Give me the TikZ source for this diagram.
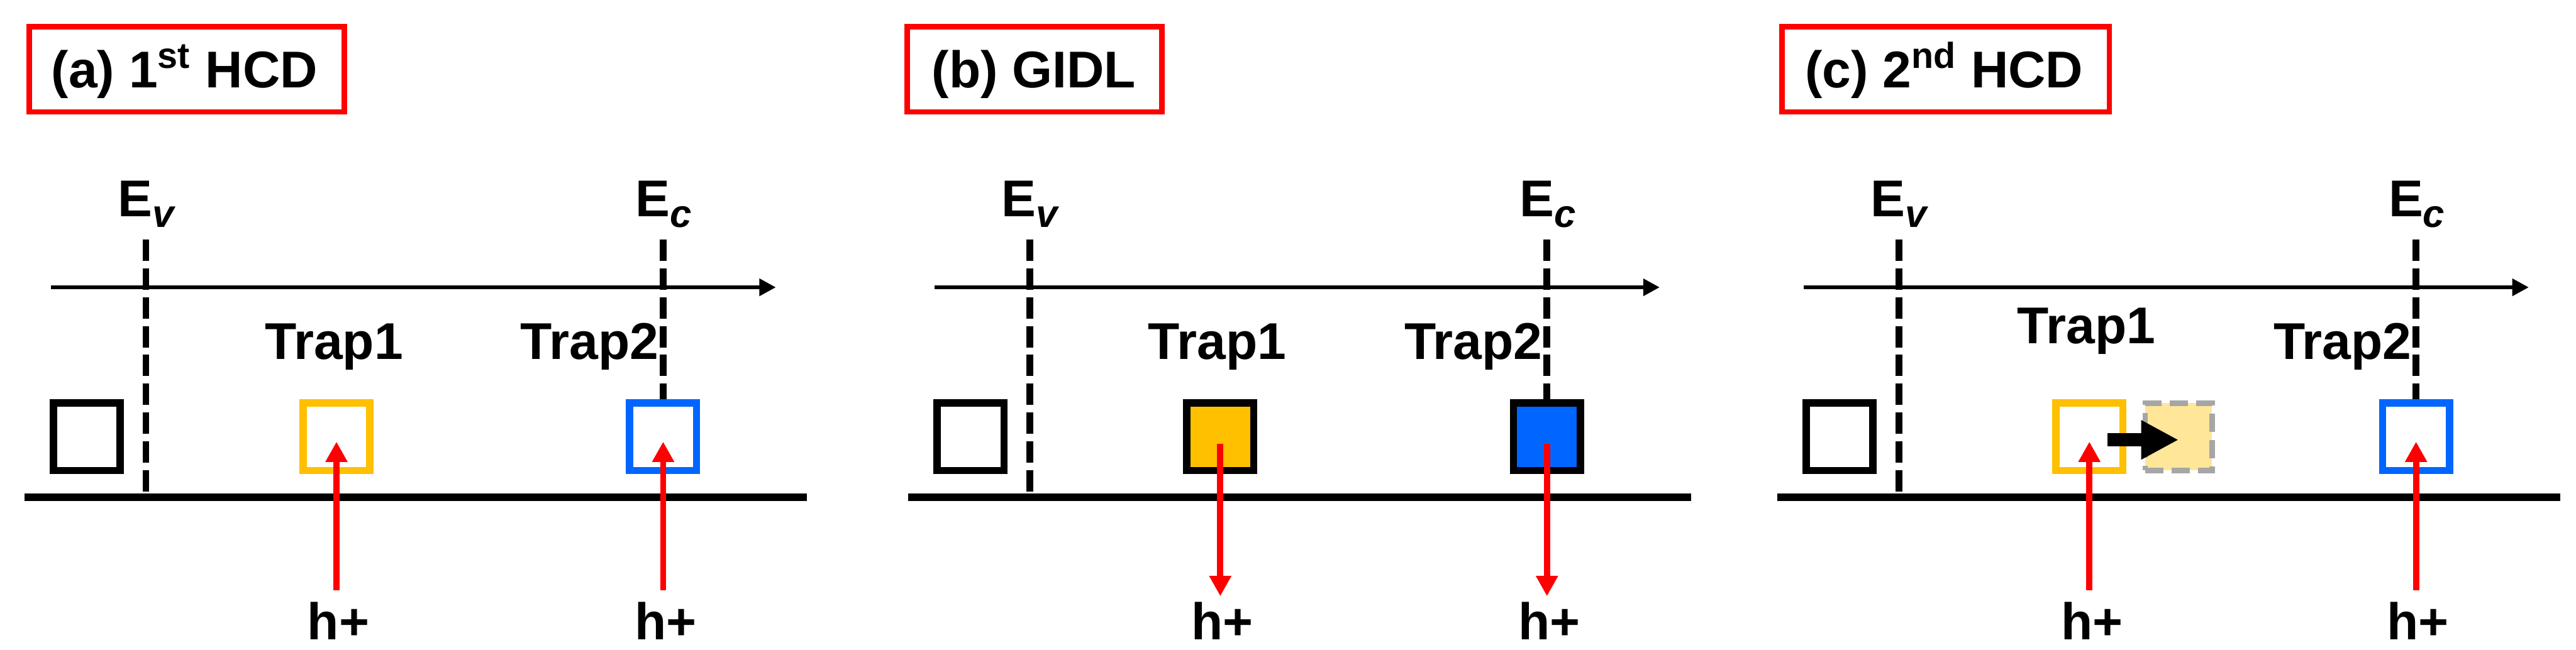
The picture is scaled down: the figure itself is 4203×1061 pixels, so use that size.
\documentclass[tikz,border=0pt]{standalone}
\usepackage{fontspec}
\setmainfont{Liberation Sans}
\usetikzlibrary{arrows.meta,calc}
\definecolor{tyel}{HTML}{FFC000}
\definecolor{tblue}{HTML}{0066FF}
\definecolor{tred}{HTML}{FF0000}
\definecolor{ghostfill}{HTML}{FFE699}
\definecolor{ghostline}{HTML}{A6A6A6}
\newcommand{\sublbl}[1]{\raisebox{-0.17cm}{\fontsize{18}{20}\selectfont\itshape #1}}
\begin{document}
\begin{tikzpicture}[x=0.01cm, y=-0.01cm,
  lbl/.style={font=\fontsize{24}{28}\selectfont\bfseries, inner sep=0pt, anchor=base},
  titlebox/.style={draw=tred, line width=0.09cm, minimum height=1.39cm, inner sep=0pt},
  trapbox/.style={line width=0.12cm, minimum width=1.09cm, minimum height=1.1cm, inner sep=0pt},
  ghostbox/.style={trapbox, line width=0.09cm, draw=ghostline, fill=ghostfill, dash pattern=on 0.3cm off 0.13cm},
  axisline/.style={line width=0.07cm, -{Triangle[length=0.27cm,width=0.27cm]}},
  bandline/.style={line width=0.12cm},
  dline/.style={line width=0.11cm, dash pattern=on 0.35cm off 0.12cm},
  redup/.style={draw=tred, line width=0.1cm, -{Triangle[length=0.33cm,width=0.34cm]}, shorten <=0.19cm, shorten >=0.08cm},
  reddown/.style={draw=tred, line width=0.1cm, -{Triangle[length=0.33cm,width=0.34cm]}, shorten <=0.11cm, shorten >=0.09cm},
  fatarrow/.style={line width=0.21cm, -{Triangle[length=0.61cm,width=0.6cm]}, shorten <=0.29cm}
]
\useasboundingbox (0,0) rectangle (4203,1061);

% ---------- titles ----------
\node[titlebox, minimum width=5.14cm] (ta) at (304.5,113) {};
\node[lbl] (tta) at (301,143) {(a) 1\textsuperscript{st} HCD};
\node[titlebox, minimum width=4.15cm] (tb) at (1688,113) {};
\node[lbl] (ttb) at (1687,143) {(b) GIDL};
\node[titlebox, minimum width=5.34cm] (tc) at (3174.5,113) {};
\node[lbl] (ttc) at (3172,143) {(c) 2\textsuperscript{nd} HCD};

% ---------- panel (a) ----------
\begin{scope}
\coordinate (a-axs) at (83,469); \coordinate (a-axe) at (1266,469);
\draw[axisline] (a-axs) -- (a-axe);
\coordinate (a-bl) at (40,812); \coordinate (a-br) at (1317,812);
\draw[bandline] (a-bl) -- (a-br);
\node[trapbox, draw=black] (a-b0) at (141.5,713) {};
\node[trapbox, draw=tyel] (a-b1) at (549,713) {};
\node[trapbox, draw=tblue] (a-b2) at (1082,713) {};
\node[lbl] (a-t1) at (545,586) {Trap1};
\node[lbl] (a-t2) at (962,586) {Trap2};
\node[lbl] (a-ev) at (238,354) {E\sublbl{v}};
\node[lbl] (a-ec) at (1083,354) {E\sublbl{c}};
\coordinate (a-evt) at (238,391);
\coordinate (a-ect) at (1082,391);
\draw[dline] (a-evt) -- (a-evt |- a-bl);
\draw[dline] (a-ect) -- (a-b2.north);
\node[lbl] (a-h1) at (552,1044) {h+};
\node[lbl] (a-h2) at (1086,1044) {h+};
\draw[redup] (a-b1 |- a-h1.north) -- (a-b1.center);
\draw[redup] (a-b2 |- a-h2.north) -- (a-b2.center);
\end{scope}

% ---------- panel (b) ----------
\begin{scope}[shift={(1442,0)}]
\coordinate (b-axs) at (83,469); \coordinate (b-axe) at (1266,469);
\draw[axisline] (b-axs) -- (b-axe);
\coordinate (b-bl) at (40,812); \coordinate (b-br) at (1317,812);
\draw[bandline] (b-bl) -- (b-br);
\node[trapbox, draw=black] (b-b0) at (141.5,713) {};
\node[trapbox, draw=black, fill=tyel] (b-b1) at (549,713) {};
\node[trapbox, draw=black, fill=tblue] (b-b2) at (1082,713) {};
\node[lbl] (b-t1) at (544,586) {Trap1};
\node[lbl] (b-t2) at (962,586) {Trap2};
\node[lbl] (b-ev) at (238,354) {E\sublbl{v}};
\node[lbl] (b-ec) at (1083,354) {E\sublbl{c}};
\coordinate (b-evt) at (238,391);
\coordinate (b-ect) at (1082,391);
\draw[dline] (b-evt) -- (b-evt |- b-bl);
\draw[dline] (b-ect) -- (b-b2.north);
\node[lbl] (b-h1) at (552,1044) {h+};
\node[lbl] (b-h2) at (1086,1044) {h+};
\draw[reddown] (b-b1.center) -- (b-b1 |- b-h1.north);
\draw[reddown] (b-b2.center) -- (b-b2 |- b-h2.north);
\end{scope}

% ---------- panel (c) ----------
\begin{scope}[shift={(2860,0)}]
\coordinate (c-axs) at (83,469); \coordinate (c-axe) at (1266,469);
\draw[axisline] (c-axs) -- (c-axe);
\coordinate (c-bl) at (40,812); \coordinate (c-br) at (1317,812);
\draw[bandline] (c-bl) -- (c-br);
\node[trapbox, draw=black] (c-b0) at (141.5,713) {};
\node[trapbox, draw=tyel] (c-b1) at (549,713) {};
\node[ghostbox] (c-g1) at (694.5,713) {};
\node[trapbox, draw=tblue] (c-b2) at (1082,713) {};
\node[lbl] (c-t1) at (544,561) {Trap1};
\node[lbl] (c-t2) at (962,586) {Trap2};
\node[lbl] (c-ev) at (238,354) {E\sublbl{v}};
\node[lbl] (c-ec) at (1083,354) {E\sublbl{c}};
\coordinate (c-evt) at (238,391);
\coordinate (c-ect) at (1082,391);
\draw[dline] (c-evt) -- (c-evt |- c-bl);
\draw[dline] (c-ect) -- (c-b2.north);
\draw[fatarrow] ([yshift=-0.05cm]c-b1.center) -- ([yshift=-0.05cm]c-g1.center);
\node[lbl] (c-h1) at (553,1044) {h+};
\node[lbl] (c-h2) at (1085,1044) {h+};
\draw[redup] (c-b1 |- c-h1.north) -- (c-b1.center);
\draw[redup] (c-b2 |- c-h2.north) -- (c-b2.center);
\end{scope}
\end{tikzpicture}
\end{document}
